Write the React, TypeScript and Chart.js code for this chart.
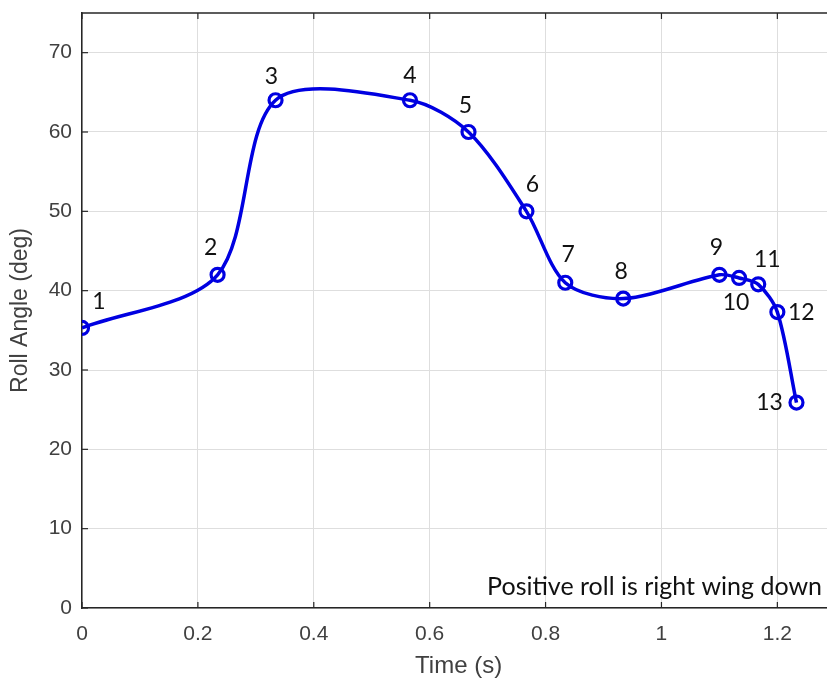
import React, { useEffect, useRef } from 'react';
import { Chart, registerables } from 'chart.js';

Chart.register(...registerables);

// ---- data ----
const timeS = [0, 0.234, 0.334, 0.566, 0.667, 0.767, 0.834, 0.934, 1.1, 1.134, 1.167, 1.2, 1.233];
const rollDeg = [35.3, 42, 64, 64, 60, 50, 41, 39, 42, 41.6, 40.8, 37.3, 25.9];
const pointLabels = ['1', '2', '3', '4', '5', '6', '7', '8', '9', '10', '11', '12', '13'];
const xTickValues = [0, 0.2, 0.4, 0.6, 0.8, 1, 1.2];
const yTickValues = [0, 10, 20, 30, 40, 50, 60, 70];
const noteText = 'Positive roll is right wing down';
const xTitle = 'Time (s)';
const yTitle = 'Roll Angle (deg)';

// ---- style (label offsets in px relative to each point) ----
const labelOffsets: [number, number][] = [
  [17, -26], [-7, -27], [-4, -24], [0, -25], [-3, -26], [6, -27], [3, -28],
  [-2, -27], [-3, -27], [-3, 25], [9, -25], [24, 0], [-27, 0],
];
const LINE_BLUE = 'rgb(0,0,225)';
const AXIS_COLOR = '#262626';
const TEXT_GRAY = '#404040';
const LABEL_FONT = 'Lato, "Open Sans", sans-serif';
const AXIS_FONT = '"Liberation Sans", Arial, sans-serif';

const overlayPlugin = {
  id: 'overlay',
  afterDatasetsDraw(chart: any) {
    const ctx = chart.ctx;
    const area = chart.chartArea;
    const xs = chart.scales.x;
    const ys = chart.scales.y;
    ctx.save();
    // top border
    ctx.strokeStyle = AXIS_COLOR;
    ctx.lineWidth = 1.5;
    ctx.beginPath();
    ctx.moveTo(area.left, area.top);
    ctx.lineTo(area.right + 2, area.top);
    ctx.stroke();
    // inner ticks
    ctx.lineWidth = 1.2;
    xTickValues.forEach((v) => {
      const px = xs.getPixelForValue(v);
      ctx.beginPath();
      ctx.moveTo(px, area.bottom);
      ctx.lineTo(px, area.bottom - 6);
      ctx.moveTo(px, area.top);
      ctx.lineTo(px, area.top + 6);
      ctx.stroke();
    });
    yTickValues.forEach((v) => {
      const py = ys.getPixelForValue(v);
      ctx.beginPath();
      ctx.moveTo(area.left, py);
      ctx.lineTo(area.left + 6, py);
      ctx.stroke();
    });
    // point labels
    const meta = chart.getDatasetMeta(0);
    ctx.fillStyle = '#111';
    ctx.font = `23px ${LABEL_FONT}`;
    ctx.textAlign = 'center';
    ctx.textBaseline = 'middle';
    meta.data.forEach((el: any, i: number) => {
      const [dx, dy] = labelOffsets[i] || [0, -25];
      ctx.fillText(pointLabels[i], el.x + dx, el.y + dy);
    });
    // note
    ctx.textAlign = 'right';
    ctx.font = `25px ${LABEL_FONT}`;
    ctx.fillText(noteText, 822, 587);
    ctx.restore();
  },
};

export default function App() {
  const ref = useRef<HTMLCanvasElement>(null);
  useEffect(() => {
    if (!ref.current) return;
    const chart = new Chart(ref.current, {
      type: 'line',
      data: {
        datasets: [
          {
            data: timeS.map((t, i) => ({ x: t, y: rollDeg[i] })),
            borderColor: LINE_BLUE,
            borderWidth: 3.5,
            tension: 0.3,
            pointRadius: 6.5,
            pointBorderWidth: 3.2,
            pointBorderColor: LINE_BLUE,
            pointBackgroundColor: 'rgba(0,0,0,0)',
            fill: false,
          },
        ],
      },
      options: {
        responsive: false,
        animation: false,
        layout: { padding: { top: 13, right: 9, left: 0, bottom: 0 } },
        plugins: { legend: { display: false }, tooltip: { enabled: false } },
        scales: {
          x: {
            type: 'linear',
            min: 0,
            max: 1.3,
            afterFit: (s: any) => {
              s.height = 73;
              s.paddingLeft = 0;
              s.paddingRight = 0;
            },
            afterBuildTicks: (s: any) => { s.ticks = xTickValues.map((v) => ({ value: v })); },
            ticks: {
              includeBounds: false,
              padding: 14,
              color: TEXT_GRAY,
              font: { family: AXIS_FONT, size: 21 },
              callback: (v: any) => String(+Number(v).toFixed(1)),
              maxRotation: 0,
            },
            grid: { color: '#dedede', lineWidth: 1, drawTicks: false },
            border: { color: AXIS_COLOR, width: 1.5 },
            title: {
              display: true,
              text: xTitle,
              color: TEXT_GRAY,
              font: { family: AXIS_FONT, size: 24 },
              padding: { top: 0, bottom: 0 },
            },
          },
          y: {
            type: 'linear',
            min: 0,
            max: 75,
            afterFit: (s: any) => {
              s.width = 82;
              s.paddingTop = 0;
              s.paddingBottom = 0;
            },
            afterBuildTicks: (s: any) => { s.ticks = yTickValues.map((v) => ({ value: v })); },
            ticks: {
              includeBounds: false,
              padding: 10,
              color: TEXT_GRAY,
              font: { family: AXIS_FONT, size: 21 },
            },
            grid: { color: '#dedede', lineWidth: 1, drawTicks: false },
            border: { color: AXIS_COLOR, width: 1.5 },
            title: {
              display: true,
              text: yTitle,
              color: TEXT_GRAY,
              font: { family: AXIS_FONT, size: 23 },
              padding: { top: 7, bottom: 0 },
            },
          },
        },
      },
      plugins: [overlayPlugin],
    });
    return () => chart.destroy();
  }, []);
  return (
    <div style={{ position: 'fixed', left: 0, top: 0, width: 827, height: 681, overflow: 'hidden', background: '#fff' }}>
      <canvas ref={ref} width={845} height={681} style={{ display: 'block', width: 845, height: 681 }} />
    </div>
  );
}
